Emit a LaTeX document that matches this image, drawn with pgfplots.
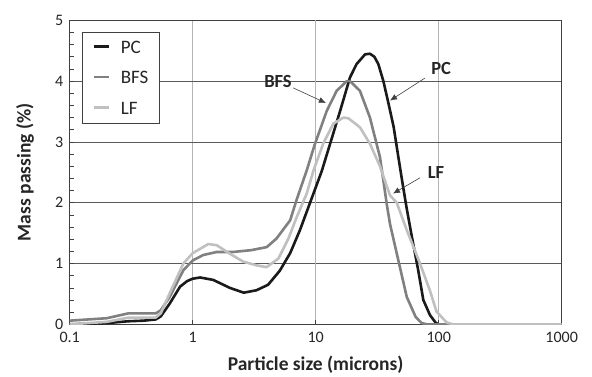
\documentclass[border=0pt]{standalone}
\usepackage{pgfplots}
\pgfplotsset{compat=1.18}
\usepackage{fontspec}
\setmainfont{Carlito}
\usetikzlibrary{arrows.meta}
\definecolor{pccol}{HTML}{1A1A1A}
\definecolor{bfscol}{HTML}{808080}
\definecolor{lfcol}{HTML}{C0C0C0}
\definecolor{framecol}{HTML}{404040}
\definecolor{gridd}{HTML}{5A5A5A}
\definecolor{gridl}{HTML}{B4B4B4}
\begin{document}
\begin{tikzpicture}
\begin{semilogxaxis}[
  scale only axis, width=492pt, height=304pt,
  xmin=0.1, xmax=1000, ymin=0, ymax=5,
  xtick={0.1,1,100,1000}, xticklabels={0.1,1,100,1000},
  extra x ticks={10}, extra x tick labels={10},
  extra x tick style={major grid style={color=gridd, line width=0.8pt}},
  ytick={0,1,2,3,4,5}, minor y tick num=4,
  /pgf/number format/assume math mode=true,
  tick align=inside, xtick pos=bottom, ytick pos=left,
  major tick length=4pt, minor tick length=4pt,
  every tick/.style={color=framecol, line width=0.6pt},
  xmajorgrids, ymajorgrids,
  x grid style={color=gridl, line width=1.1pt},
  y grid style={color=gridd, line width=0.8pt},
  axis line style={color=framecol, line width=1.2pt},
  ticklabel style={font=\fontsize{16}{19}\selectfont, text=black!85},
  xticklabel style={yshift=-4pt},
  yticklabel style={xshift=-3pt},
  xlabel={\bfseries Particle size (microns)},
  ylabel={\bfseries Mass passing (\%)},
  label style={font=\fontsize{19.5}{22}\selectfont, text=black!85},
  xlabel style={at={(axis description cs:0.5,0)}, anchor=center, yshift=-40pt},
  ylabel style={at={(axis description cs:0,0.5)}, anchor=center, yshift=44.7pt},
  legend style={at={(axis description cs:0,1)}, anchor=north west,
    xshift=12.3pt, yshift=-11.7pt, draw=framecol, line width=0.6pt,
    inner xsep=10pt, inner ysep=8pt, row sep=16.5pt,
    font=\fontsize{19}{22}\selectfont, text=black!85,
    nodes={inner sep=1pt, text height=12pt, text depth=0pt},
    /tikz/every odd column/.append style={column sep=10pt}},
  legend cell align=left,
  legend image code/.code={\draw[#1] (0pt,1pt) -- (15pt,1pt);},
  every axis plot/.append style={line width=2.6pt, line join=round},
]
\addplot[color=pccol] coordinates {
(0.1,0) (0.2,0.02) (0.3,0.05) (0.4,0.06) (0.5,0.08) (0.55,0.13) (0.65,0.34)
(0.79,0.62) (0.9,0.71) (1.0,0.75) (1.15,0.77) (1.47,0.73) (2.0,0.6) (2.6,0.52)
(3.3,0.56) (4.1,0.65) (5.1,0.88) (6.2,1.17) (7.45,1.55) (9,2.0) (11.2,2.52)
(13.1,2.97) (15.8,3.51) (19,4.06) (21.5,4.28) (25.2,4.44) (27.6,4.45) (30,4.4)
(32.3,4.28) (35.5,4.0) (38.9,3.65) (43,3.25) (47,2.75) (51,2.3) (55,1.9)
(60,1.48) (68,0.9) (75,0.4) (85,0.15) (95,0.02) (100,0) (1000,0)};
\addlegendentry{PC}
\addplot[color=bfscol] coordinates {
(0.1,0.06) (0.2,0.1) (0.3,0.18) (0.5,0.18) (0.55,0.23) (0.65,0.45) (0.84,0.89)
(1.0,1.05) (1.22,1.14) (1.57,1.19) (2.14,1.19) (3.0,1.22) (4.0,1.27) (4.8,1.41)
(6.2,1.71) (7.0,2.05) (8.45,2.53) (9.8,2.95) (12.3,3.51) (14.8,3.84) (17.9,4.0)
(19,4.0) (22.9,3.84) (27.6,3.40) (33.3,2.75) (35,2.45) (38,1.95) (40.2,1.65)
(47,1.05) (55,0.45) (65,0.12) (72.8,0.02) (80,0) (1000,0)};
\addlegendentry{BFS}
\addplot[color=lfcol] coordinates {
(0.1,0) (0.2,0.04) (0.3,0.11) (0.5,0.11) (0.55,0.18) (0.65,0.51) (0.84,1.0)
(1.0,1.17) (1.34,1.32) (1.57,1.30) (2.01,1.16) (2.58,1.03) (3.31,0.97)
(3.98,0.94) (4.97,1.08) (6.0,1.41) (7.0,1.76) (8.45,2.15) (9.6,2.53)
(11.5,2.97) (13.9,3.30) (16.8,3.40) (18.4,3.39) (22.9,3.24) (27.6,2.97)
(33.3,2.6) (40.2,2.12) (45.6,2.0) (55,1.55) (70.5,1.0) (85,0.55) (96,0.21)
(116,0.03) (130,0) (1000,0)};
\addlegendentry{LF}
\node[font=\fontsize{18.5}{22}\selectfont\bfseries, text=black!85] at (axis cs:4.94,4.0) {BFS};
\node[font=\fontsize{18.5}{22}\selectfont\bfseries, text=black!85] at (axis cs:104.6,4.2) {PC};
\node[font=\fontsize{18.5}{22}\selectfont\bfseries, text=black!85] at (axis cs:95,2.5) {LF};
\draw[color=framecol, line width=0.6pt, -{Latex[length=7pt,width=6pt]}] (axis cs:6.54,3.89) -- (axis cs:12.1,3.64);
\draw[color=framecol, line width=0.6pt, -{Latex[length=7pt,width=6pt]}] (axis cs:77.3,4.05) -- (axis cs:40.2,3.68);
\draw[color=framecol, line width=0.6pt, -{Latex[length=7pt,width=6pt]}] (axis cs:70.5,2.41) -- (axis cs:42.5,2.15);
\end{semilogxaxis}
\pgfresetboundingbox
\path (-69.7pt,-51.7pt) rectangle (522.3pt,324.3pt);
\end{tikzpicture}
\end{document}
